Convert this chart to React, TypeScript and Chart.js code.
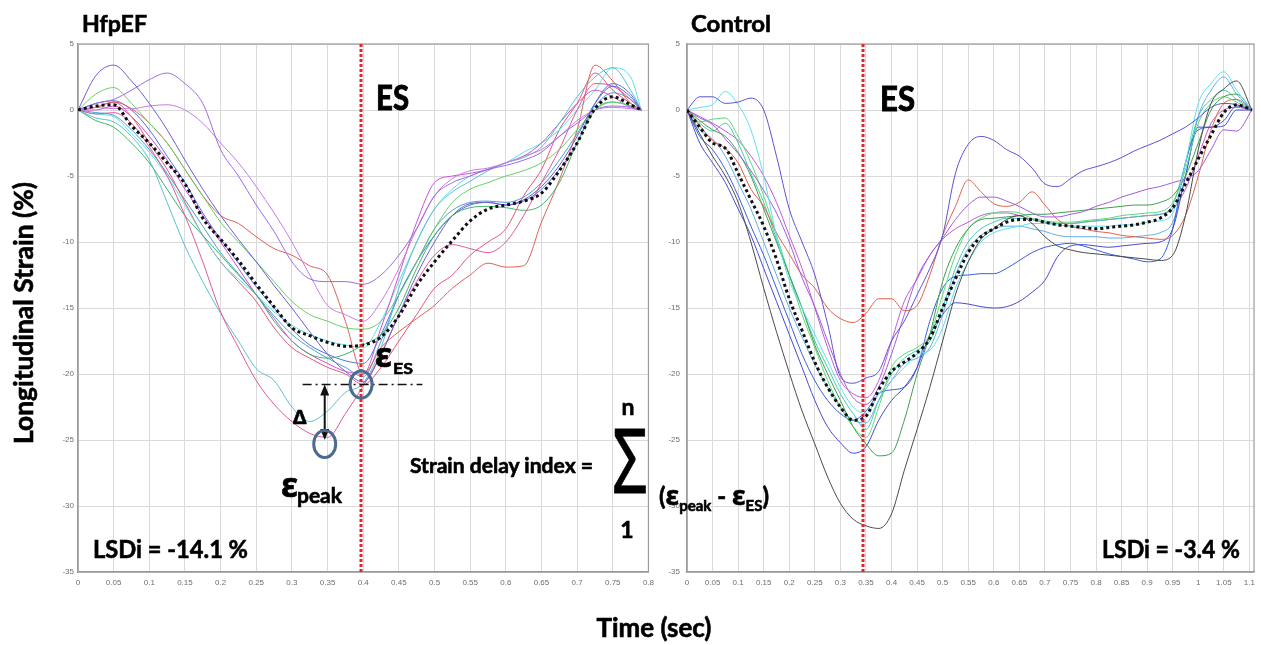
import React, { useEffect, useRef } from "react";
import { Chart, registerables } from "chart.js";

Chart.register(...registerables);

// ---------- HfpEF panel data ----------
const hfpefTime = [0, 0.025, 0.05, 0.075, 0.1, 0.125, 0.15, 0.175, 0.2, 0.225, 0.25, 0.275, 0.3, 0.325, 0.35, 0.375, 0.4, 0.425, 0.45, 0.475, 0.5, 0.525, 0.55, 0.575, 0.6, 0.625, 0.65, 0.675, 0.7, 0.725, 0.75, 0.775, 0.79];
const hfpefAverage = [0, 0.3, 0.4, -1.2, -2.5, -4.0, -5.6, -8.2, -9.8, -11.4, -13.2, -14.9, -16.5, -17.1, -17.6, -17.9, -17.8, -17.2, -15.6, -13.3, -11.5, -9.9, -8.4, -7.5, -7.2, -6.9, -6.3, -4.6, -2.5, 0.1, 1.0, 0.4, 0];
const hfpefBlueViolet = [0, 2.6, 3.4, 2.2, 0.5, -1.5, -3.8, -6.0, -8.0, -9.8, -11.5, -13.3, -15.0, -16.8, -18.5, -19.8, -20.6, -18.5, -15.5, -12.5, -10.0, -8.0, -7.1, -7.0, -7.2, -6.8, -5.8, -4.2, -2.0, 0.5, 1.8, 1.0, 0];
const hfpefViolet = [0, 0.5, 0.8, 1.5, 2.3, 2.8, 2.0, 0.5, -3.0, -5.0, -7.2, -9.2, -11.5, -12.8, -13.0, -13.0, -13.2, -12.5, -11.0, -9.0, -6.5, -5.5, -5.0, -4.5, -4.2, -3.8, -3.2, -2.0, -1.0, 0.0, 0.3, 0.2, 0];
const hfpefOrchid = [0, 0.2, 0.1, 0.1, 0.3, 0.4, 0.0, -1.0, -2.5, -4.0, -5.8, -7.8, -10.0, -12.5, -14.8, -15.5, -16.0, -14.5, -12.0, -9.0, -6.5, -5.2, -4.6, -4.4, -4.0, -3.5, -3.0, -2.0, -0.8, 0.0, 0.2, 0.1, 0];
const hfpefPink = [0, -0.3, -0.2, -1.0, -2.8, -5.0, -8.0, -11.5, -15.3, -18.0, -20.5, -22.3, -23.6, -24.5, -24.8, -23.0, -20.9, -18.5, -15.5, -13.0, -11.0, -10.2, -10.5, -10.8, -10.0, -8.0, -5.5, -3.0, 0.0, 2.0, 1.8, 0.8, 0];
const hfpefCyan = [0, -0.6, -0.9, -2.0, -3.8, -7.0, -10.3, -13.0, -15.4, -17.5, -19.6, -20.5, -22.5, -23.6, -22.8, -21.4, -20.7, -18.0, -13.5, -10.0, -7.5, -6.2, -5.4, -4.6, -4.0, -3.6, -2.8, -1.0, 1.0, 2.5, 3.2, 1.5, 0];
const hfpefGreen = [0, 1.2, 1.7, 0.5, -1.0, -2.5, -4.5, -6.5, -8.5, -10.0, -11.5, -13.0, -14.5, -15.5, -16.0, -16.5, -16.6, -16.0, -14.0, -11.5, -9.0, -7.0, -6.0, -5.5, -5.0, -4.6, -4.0, -3.0, -1.5, 0.0, 0.6, 0.3, 0];
const hfpefSeaGreen = [0, -0.8, -1.3, -2.5, -4.0, -6.0, -8.0, -9.5, -11.0, -12.5, -14.0, -16.0, -17.5, -18.5, -18.8, -18.5, -17.8, -17.0, -15.0, -12.0, -9.5, -8.0, -7.4, -7.3, -7.4, -7.6, -7.2, -5.5, -2.5, 0.0, 0.6, 0.3, 0];
const hfpefRed = [0, 0.2, 0.6, 0.1, -1.0, -2.5, -4.5, -6.5, -8.0, -8.6, -9.6, -10.5, -11.0, -11.8, -12.5, -16.0, -20.0, -18.0, -16.8, -15.8, -14.8, -13.5, -12.5, -11.6, -11.9, -11.8, -8.5, -5.3, -1.5, 3.4, 2.2, 0.5, 0];
const hfpefBlue = [0, 0.5, 0.7, 0.0, -1.5, -3.5, -5.5, -7.8, -9.8, -11.6, -13.4, -15.0, -16.6, -17.8, -18.5, -19.0, -19.2, -17.0, -14.0, -11.5, -9.5, -8.0, -7.2, -7.0, -7.2, -6.9, -6.0, -4.5, -2.5, 0.5, 2.0, 1.2, 0];
const hfpefMagenta = [0, 0.0, 0.3, -0.5, -2.0, -3.8, -6.0, -8.0, -10.0, -12.0, -14.0, -15.8, -17.5, -18.5, -19.2, -19.8, -20.0, -16.5, -12.5, -8.5, -5.5, -5.0, -4.8, -4.5, -4.0, -3.5, -2.5, -1.0, 0.5, 1.5, 1.0, 0.2, 0];
const hfpefLightCyan = [0, -0.3, -0.5, -1.8, -3.2, -5.0, -7.2, -9.5, -11.5, -12.8, -14.0, -15.3, -16.3, -17.0, -17.5, -17.8, -18.0, -16.0, -13.0, -10.0, -7.5, -6.0, -5.0, -4.5, -4.0, -3.2, -2.5, -1.5, 0.0, 1.5, 3.2, 2.5, 0];
const hfpefRose = [0, 0.2, 0.6, -0.5, -2.5, -4.5, -7.0, -9.5, -11.5, -13.0, -14.5, -16.5, -18.0, -18.8, -19.5, -20.0, -20.8, -19.5, -17.5, -15.5, -13.5, -12.5, -11.0, -10.0, -9.0, -6.5, -4.5, -1.5, 0.5, 2.8, 1.5, 0.5, 0];
const hfpefSky = [0, -0.2, -0.4, -1.5, -3.0, -4.8, -6.8, -8.8, -10.8, -12.4, -14.0, -15.6, -17.0, -18.0, -18.8, -19.5, -20.2, -17.5, -14.0, -11.5, -9.0, -7.6, -7.0, -6.9, -7.0, -6.6, -5.5, -3.8, -1.8, 0.3, 1.3, 0.8, 0];

// ---------- Control panel data ----------
const controlTime = [0, 0.025, 0.05, 0.075, 0.1, 0.125, 0.15, 0.175, 0.2, 0.225, 0.25, 0.275, 0.3, 0.325, 0.35, 0.375, 0.4, 0.425, 0.45, 0.475, 0.5, 0.525, 0.55, 0.575, 0.6, 0.625, 0.65, 0.675, 0.7, 0.725, 0.75, 0.775, 0.8, 0.825, 0.85, 0.875, 0.9, 0.925, 0.95, 0.975, 1.0, 1.025, 1.05, 1.075, 1.105];
const controlAverage = [0, -1.3, -2.5, -2.9, -4.8, -6.8, -8.8, -11.3, -14.3, -16.7, -19.1, -21.0, -22.5, -23.5, -23.2, -21.2, -19.8, -19.1, -18.4, -17.3, -15.0, -12.8, -10.8, -9.6, -9.0, -8.5, -8.3, -8.3, -8.5, -8.7, -8.8, -8.9, -9.0, -8.9, -8.8, -8.7, -8.5, -8.2, -7.4, -5.6, -3.7, -1.9, -0.2, 0.4, 0];
const controlBlack = [0, -1.8, -3.5, -5.0, -7.0, -10.0, -13.5, -16.8, -19.9, -22.8, -25.3, -27.8, -29.8, -31.0, -31.5, -31.7, -30.6, -27.3, -24.2, -21.0, -17.5, -14.0, -11.5, -9.8, -9.0, -8.3, -8.0, -8.6, -9.6, -10.3, -10.6, -10.8, -10.9, -11.0, -11.1, -11.2, -11.3, -11.4, -11.0, -8.0, -3.0, 0.5, 1.6, 2.2, 0];
const controlBlueViolet = [0, 1.0, 1.0, 0.5, 0.6, 0.9, 0.0, -3.5, -7.5, -10.0, -12.5, -16.2, -20.2, -20.7, -20.3, -19.8, -17.5, -16.0, -14.0, -12.0, -9.5, -4.8, -2.6, -2.0, -2.3, -3.0, -3.5, -4.4, -5.6, -5.8, -5.2, -4.6, -4.3, -4.0, -3.6, -3.1, -2.7, -2.3, -1.8, -1.3, -0.6, 0.2, 0.5, 0.4, 0];
const controlCyan = [0, 0.2, 0.4, 1.4, 0.4, -1.5, -5.0, -9.5, -12.9, -15.0, -17.0, -19.0, -21.0, -22.5, -23.0, -21.5, -20.5, -19.5, -18.5, -18.2, -16.5, -13.5, -11.5, -10.0, -9.3, -9.0, -8.8, -8.6, -8.6, -8.7, -8.8, -8.8, -8.8, -8.8, -8.7, -8.7, -8.5, -8.4, -7.8, -4.0, 0.5, 2.0, 2.9, 1.5, 0];
const controlViolet = [0, -0.6, -1.1, -2.2, -3.3, -4.6, -6.1, -7.8, -10.0, -12.7, -14.9, -17.5, -20.0, -21.8, -22.3, -21.0, -18.5, -15.5, -12.7, -11.0, -9.7, -8.3, -7.2, -6.6, -6.6, -6.9, -7.3, -7.8, -8.1, -8.1, -7.9, -7.7, -7.3, -7.0, -6.6, -6.3, -6.0, -5.8, -5.5, -5.2, -4.6, -3.0, -1.5, -1.6, 0];
const controlRed = [0, -1.2, -2.3, -2.9, -4.0, -6.0, -7.3, -9.3, -10.9, -12.5, -13.5, -15.0, -15.8, -16.1, -15.4, -14.3, -14.3, -15.2, -14.8, -12.5, -9.5, -7.3, -5.3, -6.2, -7.1, -7.3, -7.0, -6.2, -7.2, -8.3, -8.8, -9.0, -9.2, -9.3, -9.5, -9.6, -9.7, -9.8, -9.5, -8.0, -5.0, -1.5, 0.5, 0.8, 0];
const controlDarkGreen = [0, -0.8, -1.5, -2.0, -3.2, -5.0, -7.5, -10.0, -12.5, -15.0, -17.8, -20.0, -22.0, -24.0, -25.3, -26.2, -26.0, -23.5, -20.0, -17.0, -13.0, -10.5, -9.0, -8.3, -8.2, -8.1, -8.0, -7.9, -7.9, -7.8, -7.7, -7.6, -7.5, -7.4, -7.3, -7.2, -7.2, -7.0, -6.5, -5.0, -2.5, 0.0, 1.0, 1.2, 0];
const controlLightGreen = [0, -0.9, -0.7, -0.6, -2.0, -4.0, -6.5, -9.5, -12.5, -15.5, -18.0, -20.5, -22.5, -24.0, -24.8, -22.5, -19.5, -18.5, -18.0, -17.0, -14.0, -11.0, -9.0, -8.2, -7.8, -7.7, -7.8, -8.2, -8.4, -8.5, -8.5, -8.4, -8.3, -8.2, -8.0, -7.9, -7.8, -7.7, -7.0, -4.5, -1.0, 0.5, 1.0, 0.6, 0];
const controlLowBlue = [0, -2.5, -4.0, -5.5, -7.5, -9.5, -12.0, -14.5, -17.0, -19.5, -22.0, -24.0, -25.2, -26.0, -25.5, -23.5, -22.0, -21.0, -19.5, -17.0, -15.5, -14.6, -14.7, -14.9, -15.0, -14.9, -14.5, -13.8, -12.9, -11.1, -10.3, -10.2, -10.3, -10.4, -10.3, -10.2, -10.1, -10.0, -9.0, -5.0, -1.3, -1.3, -1.2, 0.0, 0];
const controlBlue = [0, -2.0, -3.0, -4.5, -6.5, -8.8, -11.0, -13.5, -16.0, -18.5, -20.5, -22.0, -23.0, -23.5, -22.8, -21.5, -21.2, -21.0, -19.5, -16.0, -13.5, -12.6, -12.5, -12.4, -12.4, -12.0, -11.4, -10.8, -10.4, -10.2, -10.1, -10.3, -10.6, -10.9, -11.1, -11.3, -11.5, -11.3, -9.0, -4.0, -1.5, -1.3, -0.8, 0.3, 0];
const controlSky = [0, -1.5, -2.2, -3.5, -5.5, -7.5, -10.0, -12.5, -15.0, -17.2, -19.3, -21.0, -22.5, -23.5, -23.7, -22.0, -20.5, -19.2, -18.8, -18.0, -15.5, -12.5, -10.5, -9.5, -9.0, -8.8, -8.8, -9.0, -9.2, -9.5, -9.6, -9.6, -9.6, -9.7, -9.7, -9.6, -9.5, -9.3, -8.5, -5.0, -0.5, 1.5, 2.5, 1.2, 0];
const controlTeal = [0, -1.0, -1.6, -1.0, -2.5, -4.8, -7.0, -9.8, -12.5, -15.0, -17.5, -19.5, -21.5, -23.0, -24.2, -22.0, -20.0, -18.8, -18.2, -17.5, -15.0, -12.0, -10.0, -9.0, -8.5, -8.2, -8.2, -8.3, -8.5, -8.6, -8.6, -8.5, -8.4, -8.3, -8.2, -8.1, -8.0, -7.9, -7.2, -4.0, -0.5, 0.8, 1.5, 0.8, 0];
const controlMagenta = [0, -0.5, -1.0, -1.6, -2.3, -3.5, -5.0, -7.0, -9.5, -12.0, -15.0, -18.0, -20.5, -21.5, -21.8, -20.5, -17.5, -14.5, -12.8, -11.0, -9.8, -9.0, -8.5, -8.0, -7.8, -7.8, -8.0, -8.3, -8.5, -8.6, -8.6, -8.5, -8.4, -8.3, -8.2, -8.1, -8.0, -7.9, -7.5, -6.0, -3.5, -1.0, 0.0, 0.2, 0];

// ---------- markers (data coordinates) ----------
const hfpefES = 0.397;
const controlES = 0.345;
const esCircle = { x: 0.397, y: -20.8 };
const peakCircle = { x: 0.346, y: -25.3 };
const refLine = { x0: 0.315, x1: 0.483, y: -20.8 };
const deltaArrow = { x: 0.346, y0: -20.8, y1: -25.0 };

const hfpefSegments = [
  { color: "#6b5fd6", values: hfpefBlueViolet },
  { color: "#9d6be6", values: hfpefViolet },
  { color: "#c97be2", values: hfpefOrchid },
  { color: "#e0579c", values: hfpefPink },
  { color: "#5bbfd4", values: hfpefCyan },
  { color: "#66d066", values: hfpefGreen },
  { color: "#3fb56a", values: hfpefSeaGreen },
  { color: "#e0605a", values: hfpefRed },
  { color: "#4e72e0", values: hfpefBlue },
  { color: "#d04fd4", values: hfpefMagenta },
  { color: "#5fe0e3", values: hfpefLightCyan },
  { color: "#e3567d", values: hfpefRose },
  { color: "#4a9fd0", values: hfpefSky },
];

const controlSegments = [
  { color: "#4a4a4a", values: controlBlack },
  { color: "#5b52d6", values: controlBlueViolet },
  { color: "#5fe0ef", values: controlCyan },
  { color: "#a05ce0", values: controlViolet },
  { color: "#e2604c", values: controlRed },
  { color: "#3f9d50", values: controlDarkGreen },
  { color: "#58dc74", values: controlLightGreen },
  { color: "#4848d8", values: controlLowBlue },
  { color: "#3560e0", values: controlBlue },
  { color: "#62aee6", values: controlSky },
  { color: "#44c9b0", values: controlTeal },
  { color: "#c359d8", values: controlMagenta },
];

const TEXT_FONT = "Lato, 'Open Sans', sans-serif";
const TICK_FONT = "'Liberation Sans', Arial, sans-serif";

const fmtTick = (v: any) => String(Math.round(Number(v) * 100) / 100);

function drawArrowHead(ctx: CanvasRenderingContext2D, x: number, tipY: number, dir: number) {
  ctx.beginPath();
  ctx.moveTo(x, tipY);
  ctx.lineTo(x - 4.5, tipY - dir * 11);
  ctx.lineTo(x + 4.5, tipY - dir * 11);
  ctx.closePath();
  ctx.fill();
}

function makePlugin(esTime: number, withMarks: boolean) {
  return {
    id: "panelDecor",
    beforeDatasetsDraw(chart: any) {
      const { ctx, chartArea: ca } = chart;
      ctx.save();
      ctx.strokeStyle = "#9c9c9c";
      ctx.lineWidth = 1.2;
      ctx.strokeRect(ca.left, ca.top, ca.right - ca.left, ca.bottom - ca.top);
      ctx.restore();
    },
    afterDatasetsDraw(chart: any) {
      const { ctx, chartArea: ca, scales } = chart;
      const xs = scales.x;
      const ys = scales.y;
      ctx.save();
      const ex = Math.round(xs.getPixelForValue(esTime));
      ctx.strokeStyle = "#e3242b";
      ctx.lineWidth = 3;
      ctx.setLineDash([3, 2]);
      ctx.beginPath();
      ctx.moveTo(ex, ca.top);
      ctx.lineTo(ex, ca.bottom);
      ctx.stroke();
      ctx.setLineDash([]);
      if (withMarks) {
        ctx.strokeStyle = "#111";
        ctx.lineWidth = 1.5;
        ctx.setLineDash([9, 4, 2, 4]);
        ctx.beginPath();
        const ry = ys.getPixelForValue(refLine.y);
        ctx.moveTo(xs.getPixelForValue(refLine.x0), ry);
        ctx.lineTo(xs.getPixelForValue(refLine.x1), ry);
        ctx.stroke();
        ctx.setLineDash([]);
        const ax = xs.getPixelForValue(deltaArrow.x);
        const ay0 = ys.getPixelForValue(deltaArrow.y0);
        const ay1 = ys.getPixelForValue(deltaArrow.y1);
        ctx.lineWidth = 2;
        ctx.beginPath();
        ctx.moveTo(ax, ay0 + 8);
        ctx.lineTo(ax, ay1 - 8);
        ctx.stroke();
        ctx.fillStyle = "#111";
        drawArrowHead(ctx, ax, ay0, -1);
        drawArrowHead(ctx, ax, ay1, 1);
        ctx.strokeStyle = "#4d6b8f";
        ctx.lineWidth = 3;
        [esCircle, peakCircle].forEach((c) => {
          ctx.beginPath();
          ctx.ellipse(xs.getPixelForValue(c.x), ys.getPixelForValue(c.y), 11, 13.5, 0, 0, Math.PI * 2);
          ctx.stroke();
        });
      }
      ctx.restore();
    },
  };
}

type PanelProps = {
  left: number;
  width: number;
  time: number[];
  average: number[];
  segments: { color: string; values: number[] }[];
  xMax: number;
  esTime: number;
  yAxisWidth: number;
  padRight: number;
  yTickPad: number;
  withMarks: boolean;
};

function StrainPanel(p: PanelProps) {
  const ref = useRef<HTMLCanvasElement | null>(null);
  useEffect(() => {
    if (!ref.current) return;
    const toPoints = (vals: number[]) => p.time.map((t, i) => ({ x: t, y: vals[i] }));
    const datasets: any[] = [
      {
        data: toPoints(p.average),
        borderColor: "#111111",
        borderWidth: 3,
        borderDash: [3, 3],
        pointRadius: 0,
        cubicInterpolationMode: "monotone",
        fill: false,
        order: 0,
      },
      ...p.segments.map((s) => ({
        data: toPoints(s.values),
        borderColor: s.color,
        borderWidth: 1,
        pointRadius: 0,
        cubicInterpolationMode: "monotone",
        fill: false,
        order: 1,
      })),
    ];
    const tickFont = { family: TICK_FONT, size: 8 };
    const chart = new Chart(ref.current, {
      type: "line",
      data: { datasets },
      options: {
        responsive: false,
        animation: false,
        devicePixelRatio: 1,
        layout: { padding: { left: 0, top: 44, right: p.padRight, bottom: 0 } },
        plugins: { legend: { display: false }, tooltip: { enabled: false } },
        scales: {
          x: {
            type: "linear",
            min: 0,
            max: p.xMax,
            afterFit: (s: any) => {
              s.height = 73;
            },
            ticks: {
              stepSize: 0.05,
              includeBounds: false,
              autoSkip: false,
              maxRotation: 0,
              padding: 6,
              color: "#6e6e6e",
              font: tickFont,
              callback: fmtTick,
            },
            grid: { color: "#dadada", drawTicks: false, lineWidth: 1 },
            border: { color: "#9c9c9c", width: 1.2 },
          },
          y: {
            type: "linear",
            min: -35,
            max: 5,
            afterFit: (s: any) => {
              s.width = p.yAxisWidth;
            },
            ticks: {
              stepSize: 5,
              padding: p.yTickPad,
              color: "#6e6e6e",
              font: tickFont,
              callback: fmtTick,
            },
            grid: { color: "#dadada", drawTicks: false, lineWidth: 1 },
            border: { color: "#9c9c9c", width: 1.2 },
          },
        },
      } as any,
      plugins: [makePlugin(p.esTime, p.withMarks)],
    });
    return () => chart.destroy();
  }, []);
  return (
    <canvas
      ref={ref}
      width={p.width}
      height={645}
      style={{ position: "absolute", left: p.left, top: 0, width: p.width, height: 645 }}
    />
  );
}

function Overlay() {
  const greek = "'Noto Sans', 'DejaVu Sans', sans-serif";
  return (
    <svg
      width={1261}
      height={645}
      style={{ position: "absolute", left: 0, top: 0, pointerEvents: "none" }}
      fontFamily={TEXT_FONT}
      fontWeight={700}
      fill="#000"
      stroke="#000"
      strokeWidth={0.6}
    >
      <text x={82} y={32} fontSize={23} textLength={65} lengthAdjust="spacingAndGlyphs">HfpEF</text>
      <text x={691} y={32} fontSize={23} textLength={80} lengthAdjust="spacingAndGlyphs">Control</text>
      <text x={376} y={110} fontSize={35} strokeWidth={1} textLength={33} lengthAdjust="spacingAndGlyphs">ES</text>
      <text x={880} y={111} fontSize={35} strokeWidth={1} textLength={35} lengthAdjust="spacingAndGlyphs">ES</text>
      <text transform="rotate(-90)" x={-313} y={33} textAnchor="middle" fontSize={26} textLength={262} lengthAdjust="spacingAndGlyphs">
        Longitudinal Strain (%)
      </text>
      <text x={654} y={637} textAnchor="middle" fontSize={26} textLength={115} lengthAdjust="spacingAndGlyphs">Time (sec)</text>
      <text x={93} y={558} fontSize={25} textLength={155} lengthAdjust="spacingAndGlyphs">LSDi = -14.1 %</text>
      <text x={1102} y={558} fontSize={25} textLength={138} lengthAdjust="spacingAndGlyphs">LSDi = -3.4 %</text>
      <text x={410} y={473} fontSize={20} textLength={183} lengthAdjust="spacingAndGlyphs">Strain delay index =</text>
      <text x={612} y={493} fontSize={90} fontFamily={greek} fontWeight={400} strokeWidth={0.8} textLength={36} lengthAdjust="spacingAndGlyphs">Σ</text>
      <text x={628} y={415} fontSize={23} textAnchor="middle">n</text>
      <text x={627} y={538} fontSize={23} textAnchor="middle">1</text>
      <text x={659} y={505} fontSize={24}>
        (<tspan fontFamily={greek} fontSize={27}>ε</tspan>
        <tspan fontSize={15} dy={6}>peak</tspan>
        <tspan dy={-6}> - </tspan>
        <tspan fontFamily={greek} fontSize={27}>ε</tspan>
        <tspan fontSize={15} dy={6}>ES</tspan>
        <tspan dy={-6}>)</tspan>
      </text>
      <text x={375} y={367} fontSize={34} fontFamily={greek}>ε</text>
      <text x={393} y={374} fontSize={16} textLength={20} lengthAdjust="spacingAndGlyphs">ES</text>
      <text x={281} y={497} fontSize={34} fontFamily={greek}>ε</text>
      <text x={297} y={503} fontSize={20} textLength={45} lengthAdjust="spacingAndGlyphs">peak</text>
      <text x={293} y={424} fontSize={20} fontFamily={greek}>Δ</text>
    </svg>
  );
}

export default function App() {
  return (
    <div style={{ position: "absolute", left: 0, top: 0, width: 1261, height: 645, background: "#fff", overflow: "hidden" }}>
      <StrainPanel
        left={0}
        width={660}
        time={hfpefTime}
        average={hfpefAverage}
        segments={hfpefSegments}
        xMax={0.8}
        esTime={hfpefES}
        yAxisWidth={78}
        padRight={11}
        yTickPad={4}
        withMarks={true}
      />
      <StrainPanel
        left={655}
        width={606}
        time={controlTime}
        average={controlAverage}
        segments={controlSegments}
        xMax={1.109}
        esTime={controlES}
        yAxisWidth={32}
        padRight={2}
        yTickPad={7}
        withMarks={false}
      />
      <Overlay />
    </div>
  );
}
